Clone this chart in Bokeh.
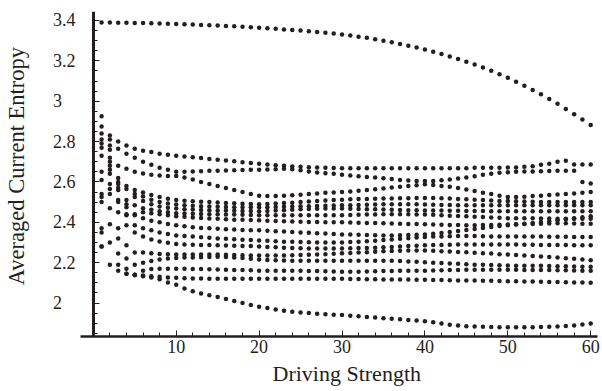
from bokeh.plotting import figure
from bokeh.models import FixedTicker, Range1d, LinearAxis, Title
from bokeh.embed import file_html
from bokeh.resources import INLINE

# Driving strength values (x)
driving = list(range(1, 61))

# Averaged current entropy, one list per curve
s_top = [3.390, 3.390, 3.389, 3.389, 3.388, 3.387, 3.386, 3.385, 3.384, 3.383,
         3.381, 3.380, 3.378, 3.377, 3.375, 3.373, 3.371, 3.369, 3.367, 3.364,
         3.362, 3.359, 3.356, 3.353, 3.350, 3.347, 3.343, 3.339, 3.335, 3.331,
         3.326, 3.320, 3.314, 3.307, 3.300, 3.292, 3.284, 3.275, 3.266, 3.256,
         3.245, 3.234, 3.222, 3.209, 3.196, 3.182, 3.167, 3.151, 3.134, 3.116,
         3.097, 3.077, 3.056, 3.034, 3.011, 2.987, 2.962, 2.936, 2.909, 2.882]
s_a = [2.925, 2.830, 2.800, 2.780, 2.765, 2.755, 2.748, 2.740, 2.735, 2.730,
       2.726, 2.722, 2.718, 2.714, 2.710, 2.706, 2.702, 2.698, 2.694, 2.690,
       2.686, 2.683, 2.680, 2.677, 2.675, 2.673, 2.671, 2.670, 2.669, 2.668,
       2.668, 2.668, 2.668, 2.668, 2.668, 2.668, 2.668, 2.668, 2.668, 2.668,
       2.668, 2.668, 2.668, 2.668, 2.668, 2.670, 2.670, 2.670, 2.670, 2.672,
       2.672, 2.675, 2.678, 2.685, 2.690, 2.700, 2.705, 2.686, 2.686, 2.686]
s_b = [2.875, 2.810, 2.765, 2.740, 2.720, 2.700, 2.685, 2.670, 2.660, 2.650,
       2.650, 2.652, 2.653, 2.655, 2.655, 2.657, 2.658, 2.659, 2.660, 2.660,
       2.662, 2.663, 2.665, 2.663, 2.658, 2.652, 2.647, 2.643, 2.640, 2.636,
       2.632, 2.628, 2.625, 2.622, 2.618, 2.614, 2.610, 2.607, 2.605, 2.604,
       2.605, 2.608, 2.612, 2.617, 2.622, 2.628, 2.635, 2.640, 2.645, 2.648,
       2.650, 2.652, 2.652, 2.653, 2.654, 2.655, 2.655, 2.655, 2.600, 2.592]
s_c = [2.840, 2.780, 2.680, 2.665, 2.650, 2.642, 2.636, 2.632, 2.630, 2.630,
       2.622, 2.612, 2.600, 2.590, 2.580, 2.570, 2.560, 2.550, 2.540, 2.532,
       2.530, 2.530, 2.532, 2.534, 2.537, 2.540, 2.543, 2.546, 2.548, 2.550,
       2.553, 2.556, 2.560, 2.564, 2.568, 2.572, 2.576, 2.580, 2.584, 2.588,
       2.585, 2.580, 2.576, 2.570, 2.562, 2.555, 2.547, 2.540, 2.532, 2.525,
       2.525, 2.527, 2.530, 2.532, 2.535, 2.538, 2.540, 2.543, 2.547, 2.550]
s_d = [2.810, 2.760, 2.620, 2.580, 2.560, 2.548, 2.535, 2.525, 2.517, 2.510,
       2.507, 2.504, 2.502, 2.500, 2.498, 2.496, 2.494, 2.492, 2.491, 2.490,
       2.491, 2.493, 2.495, 2.497, 2.500, 2.503, 2.506, 2.508, 2.510, 2.512,
       2.514, 2.515, 2.516, 2.517, 2.518, 2.518, 2.519, 2.519, 2.520, 2.520,
       2.520, 2.519, 2.518, 2.516, 2.514, 2.512, 2.510, 2.508, 2.506, 2.505,
       2.504, 2.503, 2.502, 2.501, 2.500, 2.500, 2.500, 2.500, 2.500, 2.500]
s_e = [2.790, 2.720, 2.600, 2.565, 2.540, 2.528, 2.512, 2.500, 2.493, 2.488,
       2.485, 2.482, 2.480, 2.478, 2.477, 2.476, 2.475, 2.475, 2.474, 2.474,
       2.475, 2.476, 2.477, 2.478, 2.479, 2.480, 2.481, 2.482, 2.483, 2.484,
       2.485, 2.486, 2.487, 2.488, 2.489, 2.490, 2.490, 2.490, 2.489, 2.488,
       2.487, 2.486, 2.486, 2.485, 2.485, 2.485, 2.484, 2.484, 2.484, 2.484,
       2.484, 2.484, 2.484, 2.484, 2.484, 2.484, 2.484, 2.484, 2.484, 2.484]
s_f = [2.770, 2.700, 2.590, 2.510, 2.525, 2.505, 2.490, 2.478, 2.472, 2.468,
       2.465, 2.463, 2.461, 2.460, 2.459, 2.458, 2.457, 2.456, 2.456, 2.455,
       2.456, 2.458, 2.460, 2.462, 2.464, 2.466, 2.467, 2.468, 2.468, 2.468,
       2.467, 2.466, 2.465, 2.464, 2.463, 2.462, 2.461, 2.460, 2.460, 2.459,
       2.458, 2.458, 2.457, 2.457, 2.456, 2.456, 2.456, 2.455, 2.455, 2.455,
       2.455, 2.455, 2.455, 2.455, 2.455, 2.455, 2.455, 2.455, 2.455, 2.455]
s_g = [2.730, 2.680, 2.570, 2.490, 2.484, 2.470, 2.462, 2.455, 2.450, 2.445,
       2.443, 2.442, 2.441, 2.440, 2.440, 2.439, 2.438, 2.437, 2.436, 2.435,
       2.435, 2.435, 2.435, 2.435, 2.435, 2.435, 2.435, 2.435, 2.435, 2.435,
       2.436, 2.437, 2.438, 2.439, 2.440, 2.440, 2.440, 2.440, 2.439, 2.438,
       2.437, 2.435, 2.433, 2.431, 2.430, 2.428, 2.426, 2.424, 2.422, 2.420,
       2.420, 2.420, 2.420, 2.419, 2.419, 2.418, 2.418, 2.418, 2.418, 2.418]
s_h = [2.650, 2.660, 2.560, 2.475, 2.440, 2.450, 2.445, 2.440, 2.435, 2.430,
       2.427, 2.424, 2.421, 2.419, 2.417, 2.415, 2.413, 2.412, 2.411, 2.410,
       2.408, 2.406, 2.405, 2.404, 2.403, 2.402, 2.401, 2.400, 2.400, 2.400,
       2.399, 2.398, 2.397, 2.396, 2.395, 2.394, 2.393, 2.392, 2.391, 2.390,
       2.389, 2.388, 2.387, 2.386, 2.385, 2.385, 2.386, 2.387, 2.388, 2.389,
       2.390, 2.391, 2.392, 2.393, 2.394, 2.395, 2.395, 2.394, 2.393, 2.393]
s_i = [2.610, 2.640, 2.510, 2.440, 2.435, 2.420, 2.408, 2.400, 2.392, 2.385,
       2.380, 2.376, 2.372, 2.370, 2.368, 2.366, 2.364, 2.362, 2.361, 2.360,
       2.358, 2.356, 2.354, 2.352, 2.350, 2.348, 2.346, 2.344, 2.342, 2.340,
       2.339, 2.338, 2.337, 2.336, 2.335, 2.335, 2.336, 2.337, 2.338, 2.340,
       2.343, 2.347, 2.352, 2.357, 2.362, 2.367, 2.372, 2.377, 2.381, 2.385,
       2.389, 2.393, 2.397, 2.401, 2.405, 2.410, 2.415, 2.420, 2.425, 2.430]
s_j = [2.540, 2.590, 2.500, 2.435, 2.385, 2.370, 2.360, 2.350, 2.342, 2.335,
       2.332, 2.329, 2.326, 2.323, 2.320, 2.318, 2.316, 2.314, 2.312, 2.310,
       2.308, 2.306, 2.304, 2.303, 2.302, 2.301, 2.300, 2.300, 2.300, 2.300,
       2.302, 2.304, 2.306, 2.309, 2.312, 2.315, 2.318, 2.321, 2.324, 2.327,
       2.329, 2.330, 2.331, 2.332, 2.332, 2.332, 2.331, 2.330, 2.330, 2.330,
       2.330, 2.330, 2.329, 2.329, 2.328, 2.328, 2.328, 2.327, 2.327, 2.327]
s_k = [2.525, 2.565, 2.450, 2.385, 2.350, 2.330, 2.315, 2.305, 2.298, 2.292,
       2.290, 2.289, 2.288, 2.287, 2.286, 2.285, 2.284, 2.283, 2.282, 2.280,
       2.278, 2.276, 2.274, 2.272, 2.271, 2.270, 2.270, 2.270, 2.270, 2.270,
       2.271, 2.272, 2.273, 2.274, 2.276, 2.278, 2.280, 2.282, 2.284, 2.286,
       2.287, 2.288, 2.289, 2.290, 2.290, 2.290, 2.290, 2.290, 2.290, 2.290,
       2.290, 2.289, 2.289, 2.288, 2.288, 2.287, 2.287, 2.286, 2.286, 2.286]
s_l = [2.500, 2.540, 2.370, 2.286, 2.250, 2.250, 2.246, 2.243, 2.241, 2.240,
       2.240, 2.240, 2.240, 2.240, 2.240, 2.239, 2.238, 2.237, 2.236, 2.235,
       2.235, 2.235, 2.236, 2.237, 2.238, 2.239, 2.240, 2.242, 2.244, 2.246,
       2.248, 2.250, 2.252, 2.254, 2.256, 2.258, 2.259, 2.260, 2.260, 2.260,
       2.259, 2.257, 2.255, 2.253, 2.251, 2.249, 2.247, 2.245, 2.242, 2.240,
       2.238, 2.236, 2.233, 2.231, 2.228, 2.225, 2.222, 2.219, 2.216, 2.212]
s_m = [2.370, 2.470, 2.320, 2.220, 2.190, 2.200, 2.208, 2.215, 2.220, 2.223,
       2.225, 2.226, 2.227, 2.228, 2.229, 2.228, 2.226, 2.223, 2.219, 2.215,
       2.213, 2.212, 2.211, 2.210, 2.210, 2.210, 2.210, 2.210, 2.210, 2.210,
       2.210, 2.210, 2.210, 2.210, 2.210, 2.209, 2.208, 2.206, 2.204, 2.202,
       2.200, 2.198, 2.196, 2.194, 2.192, 2.190, 2.189, 2.188, 2.187, 2.186,
       2.185, 2.185, 2.184, 2.184, 2.183, 2.182, 2.182, 2.181, 2.180, 2.180]
s_n = [2.350, 2.390, 2.245, 2.170, 2.140, 2.160, 2.168, 2.170, 2.170, 2.170,
       2.170, 2.169, 2.168, 2.167, 2.166, 2.165, 2.164, 2.163, 2.162, 2.160,
       2.160, 2.160, 2.160, 2.160, 2.160, 2.159, 2.158, 2.157, 2.156, 2.155,
       2.155, 2.155, 2.156, 2.157, 2.158, 2.159, 2.160, 2.160, 2.160, 2.160,
       2.161, 2.162, 2.163, 2.164, 2.165, 2.165, 2.165, 2.165, 2.165, 2.165,
       2.165, 2.164, 2.164, 2.163, 2.163, 2.162, 2.162, 2.161, 2.160, 2.160]
s_o = [2.280, 2.300, 2.190, 2.145, 2.140, 2.136, 2.133, 2.130, 2.127, 2.125,
       2.123, 2.122, 2.121, 2.120, 2.120, 2.120, 2.120, 2.120, 2.120, 2.120,
       2.120, 2.120, 2.120, 2.120, 2.120, 2.120, 2.120, 2.120, 2.120, 2.120,
       2.119, 2.119, 2.118, 2.118, 2.117, 2.117, 2.116, 2.116, 2.115, 2.115,
       2.114, 2.114, 2.113, 2.112, 2.112, 2.111, 2.110, 2.110, 2.109, 2.108,
       2.108, 2.107, 2.106, 2.105, 2.104, 2.104, 2.103, 2.102, 2.101, 2.100]
s_bottom = [2.280, 2.190, 2.160, 2.145, 2.138, 2.132, 2.126, 2.118, 2.102, 2.090,
            2.072, 2.058, 2.047, 2.038, 2.030, 2.020, 2.010, 2.000, 1.990, 1.982,
            1.975, 1.968, 1.962, 1.957, 1.953, 1.950, 1.947, 1.944, 1.942, 1.940,
            1.937, 1.934, 1.931, 1.928, 1.925, 1.922, 1.919, 1.916, 1.913, 1.910,
            1.905, 1.898, 1.892, 1.888, 1.885, 1.883, 1.882, 1.881, 1.880, 1.880,
            1.880, 1.880, 1.880, 1.881, 1.882, 1.884, 1.886, 1.889, 1.893, 1.898]

all_series = [s_top, s_a, s_b, s_c, s_d, s_e, s_f, s_g, s_h, s_i, s_j, s_k,
              s_l, s_m, s_n, s_o, s_bottom]

x_ticks = [10, 20, 30, 40, 50, 60]
x_minor = [2, 4, 6, 8, 12, 14, 16, 18, 22, 24, 26, 28, 32, 34, 36, 38,
           42, 44, 46, 48, 52, 54, 56, 58]
y_ticks = [2.0, 2.2, 2.4, 2.6, 2.8, 3.0, 3.2, 3.4]
y_tick_labels = ["2\u2008\u2007", "2.2", "2.4", "2.6", "2.8", "3\u2008\u2007", "3.2", "3.4"]
y_minor = [1.85, 1.9, 1.95, 2.05, 2.1, 2.15, 2.25, 2.3, 2.35, 2.45, 2.5, 2.55,
           2.65, 2.7, 2.75, 2.85, 2.9, 2.95, 3.05, 3.1, 3.15, 3.25, 3.3, 3.35]

FONT = "Liberation Serif"
INK = "#231f20"

p = figure(width=602, height=391, output_backend="svg", toolbar_location=None,
           x_range=Range1d(-1.544, 60.82), y_range=Range1d(1.834, 3.4446),
           min_border_left=80, min_border_right=5, min_border_top=11,
           min_border_bottom=55)
p.outline_line_color = None
p.grid.visible = False
p.background_fill_color = "white"
p.border_fill_color = "white"

for vals in all_series:
    p.scatter(driving, vals, size=4.5, color=INK, line_width=0)

# bottom axis
xa = p.xaxis[0]
xa.ticker = FixedTicker(ticks=x_ticks, minor_ticks=x_minor)
xa.axis_line_width = 2.5
xa.axis_line_color = INK
xa.major_tick_in = 6
xa.major_tick_out = 0
xa.minor_tick_in = 4
xa.minor_tick_out = 0
xa.major_tick_line_color = INK
xa.minor_tick_line_color = INK
xa.major_label_text_font = FONT
xa.major_label_text_font_size = "18px"
xa.major_label_text_color = INK
xa.major_label_standoff = 3

# left axis at frame edge: carries the tick labels and the axis title
ylab = p.yaxis[0]
ylab.ticker = FixedTicker(ticks=y_ticks, minor_ticks=[])
ylab.major_label_overrides = dict(zip(y_ticks, y_tick_labels))
ylab.axis_line_color = None
ylab.major_tick_line_color = None
ylab.minor_tick_line_color = None
ylab.major_tick_in = 0
ylab.major_tick_out = 0
ylab.major_label_text_font = FONT
ylab.major_label_text_font_size = "18px"
ylab.major_label_text_color = INK
ylab.major_label_standoff = 5
ylab.axis_label = "\u2002\u2009Averaged Current Entropy"
ylab.axis_label_text_font = FONT
ylab.axis_label_text_font_size = "22.5px"
ylab.axis_label_text_font_style = "normal"
ylab.axis_label_text_color = INK
ylab.axis_label_standoff = 21

# vertical axis drawn at x = 0 (line + major ticks, then minor ticks)
ymaj = LinearAxis(fixed_location=0,
                  ticker=FixedTicker(ticks=[], minor_ticks=y_ticks),
                  axis_line_width=3, axis_line_color=INK,
                  major_tick_line_color=None, major_tick_in=0, major_tick_out=0,
                  minor_tick_in=6, minor_tick_out=0, minor_tick_line_color=INK)
ymin = LinearAxis(fixed_location=0,
                  ticker=FixedTicker(ticks=[], minor_ticks=y_minor),
                  axis_line_color=None,
                  major_tick_line_color=None, major_tick_in=0, major_tick_out=0,
                  minor_tick_in=4, minor_tick_out=0, minor_tick_line_color=INK)
p.add_layout(ymaj, "left")
p.add_layout(ymin, "left")

xtitle = Title(text="Driving Strength", align="left", offset=192,
               standoff=6, text_font=FONT, text_font_size="22px",
               text_font_style="normal", text_color=INK)
p.add_layout(xtitle, "below")

open("out.html", "w").write(file_html(p, INLINE))
